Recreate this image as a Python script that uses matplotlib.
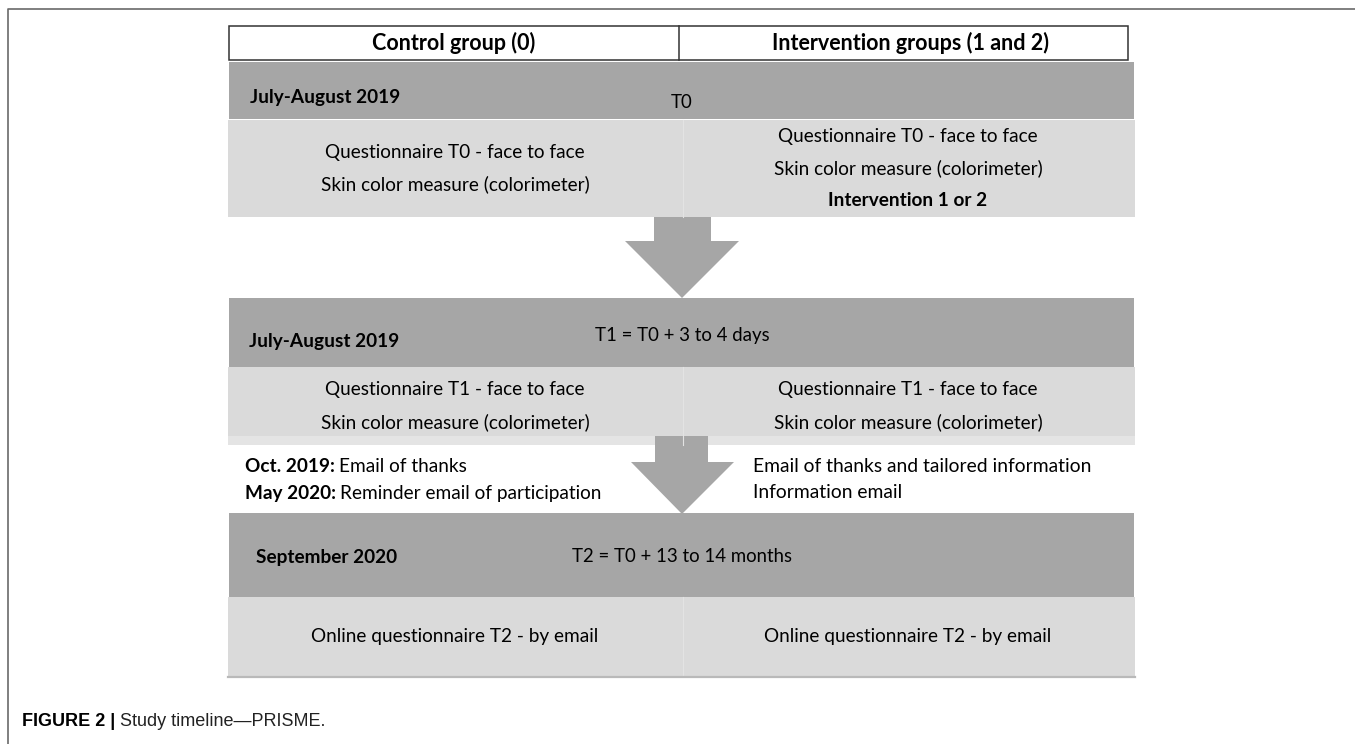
"""Study timeline diagram (PRISME), redrawn with matplotlib patches and text."""
import matplotlib
matplotlib.use("Agg")
import matplotlib.pyplot as plt
from matplotlib.patches import Rectangle, Polygon

# --- content -------------------------------------------------------------
header_labels = ["Control group (0)", "Intervention groups (1 and 2)"]
period_labels = ["July-August 2019", "July-August 2019", "September 2020"]
timepoint_labels = ["T0", "T1 = T0 + 3 to 4 days", "T2 = T0 + 13 to 14 months"]
control_tasks = [
    ["Questionnaire T0 - face to face", "Skin color measure (colorimeter)"],
    ["Questionnaire T1 - face to face", "Skin color measure (colorimeter)"],
    ["Online questionnaire T2 - by email"],
]
intervention_tasks = [
    ["Questionnaire T0 - face to face", "Skin color measure (colorimeter)", "Intervention 1 or 2"],
    ["Questionnaire T1 - face to face", "Skin color measure (colorimeter)"],
    ["Online questionnaire T2 - by email"],
]
bold_tasks = ["Intervention 1 or 2"]
followup_dates = ["Oct. 2019:", "May 2020:"]
followup_control = ["Email of thanks", "Reminder email of participation"]
followup_intervention = ["Email of thanks and tailored information", "Information email"]
caption_bold = "FIGURE 2 | "
caption_text = "Study timeline\u2014PRISME."

# --- style / layout (pixel units, y downwards) ---------------------------
FONT = ["Lato", "DejaVu Sans"]
CAP_FONT = ["Liberation Sans Narrow", "Liberation Sans", "DejaVu Sans"]
DARK = "#a6a6a6"
LIGHT = "#dadada"
X0, XMID, X1 = 228, 682, 1135
dark_bands = [(62, 119), (298, 367), (513, 597)]
light_bands = [(120, 217), (367, 445), (597, 676)]
period_y = [98, 341, 558]
period_x = [250, 249, 256]
time_y = [103, 335, 557]
LINE = 32
FS = 13.7

fig = plt.figure(figsize=(13.55, 7.44), dpi=100)
ax = fig.add_axes([0, 0, 1, 1])
ax.set_xlim(0, 1355)
ax.set_ylim(744, 0)
ax.axis("off")

# outer frame (open to the right / bottom, as in the page crop)
ax.plot([7.5, 7.5, 1355], [744, 8.5, 8.5], color="#6a6a6a", lw=1.2)

# header box
ax.add_patch(Rectangle((229, 26), 1128 - 229, 34, facecolor="white", edgecolor="#333333", lw=1.1))
ax.plot([679, 679], [26, 60], color="#333333", lw=1.1)
for cx, lab in zip([454, 910], header_labels):
    ax.text(cx, 43, lab, ha="center", va="center", fontsize=15.5, fontweight="bold", family=FONT)

# stage bands
for i, ((d0, d1), (l0, l1)) in enumerate(zip(dark_bands, light_bands)):
    ax.add_patch(Rectangle((X0 + 1, d0), X1 - X0 - 2, d1 - d0, facecolor=DARK, edgecolor="none"))
    ax.add_patch(Rectangle((X0, l0), X1 - X0, l1 - l0, facecolor=LIGHT, edgecolor="none"))
    ax.plot([XMID + 1, XMID + 1], [l0, l1], color="#e3e3e3", lw=0.8)
    ax.text(period_x[i], period_y[i], period_labels[i], ha="left", va="center",
            fontsize=FS, fontweight="bold", family=FONT)
    ax.text(XMID, time_y[i], timepoint_labels[i], ha="center", va="center", fontsize=FS - 0.3, family=FONT)
    mid = (l0 + l1) / 2
    for cx, lines in [(455, control_tasks[i]), (908, intervention_tasks[i])]:
        n = len(lines)
        for k, s in enumerate(lines):
            y = mid + (k - (n - 1) / 2) * LINE
            ax.text(cx, y, s, ha="center", va="center", fontsize=FS, family=FONT,
                    fontweight="bold" if s in bold_tasks else "normal")

# lighter strip at bottom of second light band, shadow under the last one
ax.add_patch(Rectangle((X0, 436), X1 - X0, 9, facecolor="#e4e4e4", edgecolor="none"))
ax.plot([X0, X1], [676.5, 676.5], color="#b9b9b9", lw=1.6)

# down arrows between stages
arrows = [(217, 241, 298, 654, 711, 625, 739), (436, 462, 514, 655, 708, 631, 734)]
for y0, yh, yt, s0, s1, h0, h1 in arrows:
    ax.add_patch(Polygon([(s0, y0), (s1, y0), (s1, yh), (h1, yh), (XMID, yt),
                          (h0, yh), (s0, yh)], closed=True, facecolor=DARK, edgecolor="none"))

# follow-up e-mails
fig.canvas.draw()
r = fig.canvas.get_renderer()
for k, (d, s) in enumerate(zip(followup_dates, followup_control)):
    y = 466 + k * 27
    t = ax.text(245, y, d, ha="left", va="center", fontsize=FS, fontweight="bold", family=FONT)
    w = t.get_window_extent(r).width
    ax.text(245 + w + 4, y, s, ha="left", va="center", fontsize=FS, family=FONT)
for k, s in enumerate(followup_intervention):
    ax.text(753, 466 + k * 27, s, ha="left", va="center", fontsize=FS + 0.2, family=FONT)

# caption
t = ax.text(22, 721, caption_bold, ha="left", va="center", fontsize=13, fontweight="bold", family=CAP_FONT)
w = t.get_window_extent(r).width
ax.text(22 + w, 721, caption_text, ha="left", va="center", fontsize=13, family=CAP_FONT, color="#222222")

fig.savefig("out.png", dpi=100, facecolor="white")
plt.close(fig)
